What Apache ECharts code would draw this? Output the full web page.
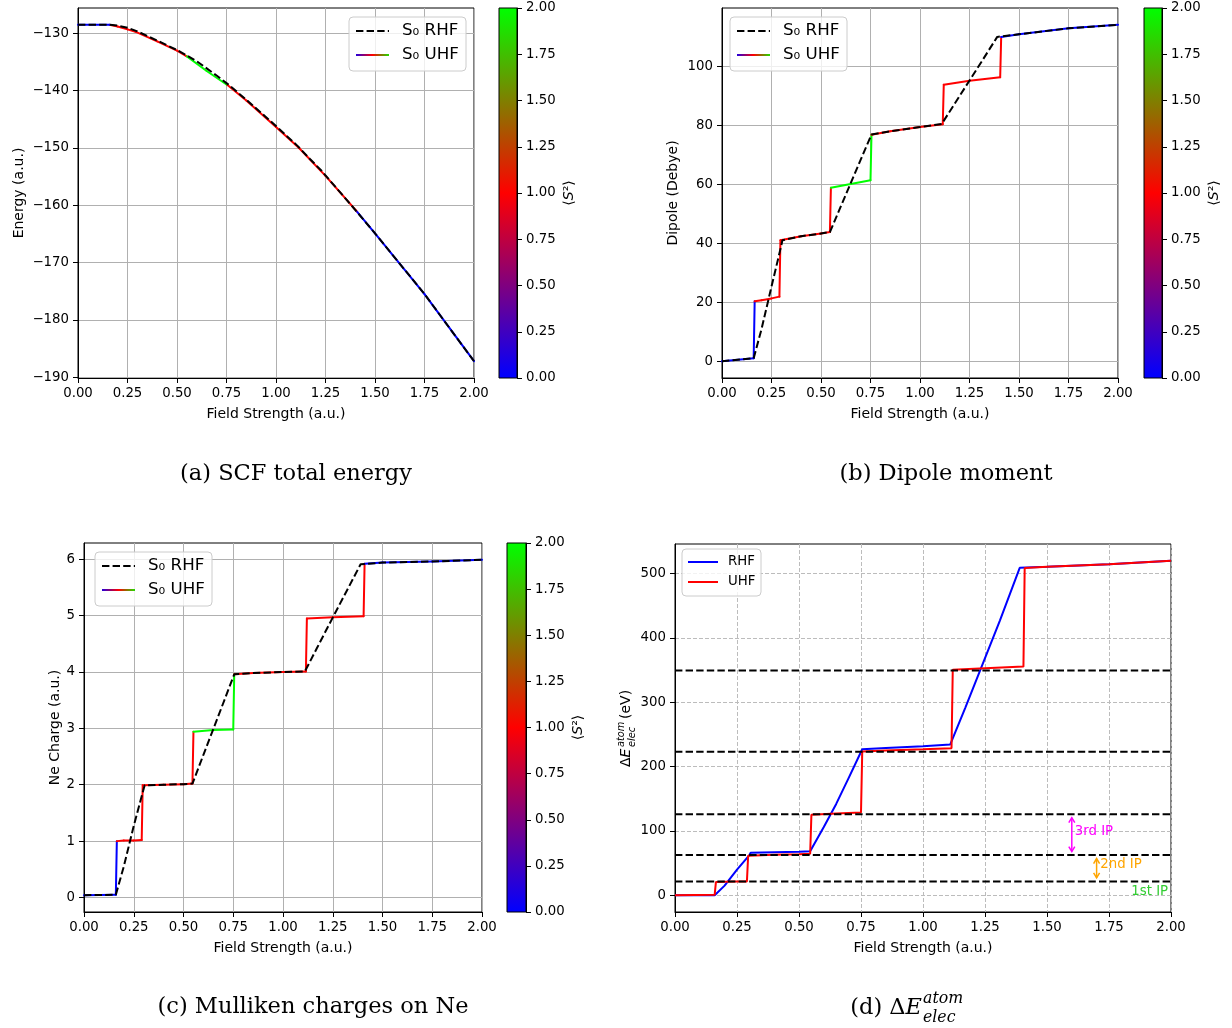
<!DOCTYPE html>
<html>
<head>
<meta charset="utf-8">
<script src="https://cdn.jsdelivr.net/npm/echarts@6/dist/echarts.min.js"></script>
<style>
html, body { margin: 0; padding: 0; background: #fff; }
#chart { width: 1232px; height: 1028px; }
</style>
</head>
<body>
<div id="chart"></div>
<script>
// ---- Field scan data (field strength in a.u.) ----
const UHF_FIELD   = [0.00, 0.16, 0.165, 0.20, 0.25, 0.29, 0.295, 0.40, 0.50, 0.545, 0.55, 0.65, 0.75, 0.755, 0.85, 1.00, 1.115, 1.12, 1.25, 1.405, 1.41, 1.50, 1.75, 2.00];
const UHF_S2      = [0, 0, 1, 1, 1, 1, 1, 1, 1, 1, 2, 2, 2, 1, 1, 1, 1, 1, 1, 1, 0, 0, 0, 0];
const UHF_ENERGY  = [-128.55, -128.55, -128.58, -128.85, -129.35, -129.75, -129.82, -131.45, -133.05, -133.95, -134.05, -136.6, -138.95, -139.05, -141.75, -146.35, -150.0, -150.15, -154.9, -160.95, -161.15, -164.9, -175.5, -187.2];
const UHF_DIPOLE  = [0.0, 1.0, 20.3, 20.7, 21.3, 21.9, 41.0, 42.4, 43.3, 43.8, 58.8, 60.1, 61.4, 76.8, 78.0, 79.4, 80.4, 93.8, 95.1, 96.3, 110.0, 110.9, 112.9, 114.1];
const UHF_CHARGE  = [0.04, 0.05, 1.00, 1.01, 1.01, 1.02, 1.99, 2.00, 2.01, 2.02, 2.94, 2.97, 2.98, 3.96, 3.98, 4.00, 4.01, 4.95, 4.97, 4.99, 5.92, 5.94, 5.96, 5.99];
const UHF_DELTA_E = [0.0, 1.0, 20.5, 20.9, 21.3, 21.6, 61.5, 62.8, 63.8, 64.5, 125.0, 127.0, 128.5, 223.5, 225.0, 226.8, 228.5, 350.5, 353.0, 355.4, 508.6, 510.5, 514.7, 520.0];

const RHF_FIELD   = [0.00, 0.16, 0.165, 0.20, 0.25, 0.30, 0.305, 0.40, 0.50, 0.545, 0.60, 0.65, 0.70, 0.755, 0.85, 1.00, 1.11, 1.17, 1.23, 1.31, 1.39, 1.50, 1.75, 2.00];
const RHF_ENERGY  = [-128.55, -128.55, -128.56, -128.7, -129.05, -129.7, -129.8, -131.3, -132.95, -133.8, -134.9, -136.15, -137.4, -138.85, -141.6, -146.2, -149.7, -151.9, -154.0, -157.2, -160.4, -164.9, -175.5, -187.2];
const RHF_DIPOLE  = [0.0, 1.0, 1.3, 11.0, 25.3, 39.4, 41.0, 42.4, 43.3, 43.8, 52.5, 60.4, 68.3, 76.9, 78.0, 79.4, 80.5, 86.8, 93.1, 101.5, 110.0, 110.9, 112.9, 114.1];
const RHF_CHARGE  = [0.04, 0.05, 0.07, 0.55, 1.27, 1.93, 1.99, 2.00, 2.01, 2.02, 2.53, 2.99, 3.45, 3.96, 3.98, 4.00, 4.01, 4.42, 4.83, 5.37, 5.91, 5.94, 5.96, 5.99];
const RHF_DELTA_E = [0.0, 0.0, 0.5, 15.0, 40.0, 62.5, 66.0, 67.0, 67.7, 68.5, 106.0, 142.0, 182.0, 227.0, 229.0, 231.5, 234.5, 291.0, 349.0, 427.0, 509.0, 510.5, 514.7, 520.0];

// Cumulative ionisation potentials of Ne (eV)
const IP_LEVELS = [21.56, 62.53, 125.98, 223.10, 349.31];
const IP_NOTE_TEXT  = ['1st IP', '2nd IP', '3rd IP'];
const IP_NOTE_COLOR = ['#32cd32', '#ffa500', '#ff00ff'];
const IP_NOTE_FIELD = [1.84, 1.715, 1.612];
const IP_NOTE_BASE  = [0.0, 42.0, 94.3];
const IP_ARROW_FIELD = [null, 1.70, 1.60];

// Tick values
const FIELD_TICKS   = [0, 0.25, 0.5, 0.75, 1, 1.25, 1.5, 1.75, 2];
const ENERGY_TICKS  = [-190, -180, -170, -160, -150, -140, -130];
const DIPOLE_TICKS  = [0, 20, 40, 60, 80, 100];
const CHARGE_TICKS  = [0, 1, 2, 3, 4, 5, 6];
const DELTA_E_TICKS = [0, 100, 200, 300, 400, 500];
const S2_TICKS      = [0, 0.25, 0.5, 0.75, 1, 1.25, 1.5, 1.75, 2];
const S2_RANGE      = [0, 2];
const S2_COLORS     = ['#0000ff', '#ff0000', '#00ff00'];

// ---- helpers ----
const FONT = 'DejaVu Sans';
const TICK_FS = 13.3;
const NAME_FS = 14;

const fixed2 = v => v.toFixed(2);
const signed = v => (v < 0 ? '\u2212' + Math.abs(v) : String(v));

function axis(gridIndex, min, max, ticks, formatter, extra) {
  return Object.assign({
    type: 'value', gridIndex, min, max,
    axisLine: { show: true, onZero: false, lineStyle: { color: '#000', width: 1 } },
    axisTick: { show: true, inside: false, length: 5, customValues: ticks, lineStyle: { color: '#000', width: 1 } },
    axisLabel: { customValues: ticks, formatter, color: '#000', fontSize: TICK_FS, fontFamily: FONT, margin: 9, hideOverlap: false },
    splitLine: { show: true, lineStyle: { color: '#b0b0b0', width: 1 } },
    nameLocation: 'middle',
    nameTextStyle: { color: '#000', fontSize: NAME_FS, fontFamily: FONT }
  }, extra || {});
}

function pairs(xs, ys) { return xs.map((x, i) => [x, ys[i]]); }

function uhfSegments(ys) {
  const out = [];
  for (let i = 0; i < UHF_FIELD.length - 1; i++) {
    out.push([UHF_FIELD[i], ys[i], UHF_FIELD[i + 1], ys[i + 1], UHF_S2[i]]);
  }
  return out;
}

function renderSegment(params, api) {
  const a = api.coord([api.value(0), api.value(1)]);
  const b = api.coord([api.value(2), api.value(3)]);
  return {
    type: 'line',
    shape: { x1: a[0], y1: a[1], x2: b[0], y2: b[1] },
    style: { stroke: api.visual('color'), lineWidth: 2, lineCap: 'round' }
  };
}

function uhfSeries(k, ys) {
  return {
    type: 'custom', name: 'S0 UHF', xAxisIndex: k, yAxisIndex: k,
    dimensions: ['x0', 'y0', 'x1', 'y1', 's2'],
    encode: { x: [0, 2], y: [1, 3] },
    data: uhfSegments(ys), renderItem: renderSegment, z: 2, silent: true
  };
}

function rhfSeries(k, ys) {
  return {
    type: 'line', name: 'S0 RHF', xAxisIndex: k, yAxisIndex: k,
    data: pairs(RHF_FIELD, ys), showSymbol: false, symbol: 'none', z: 3, silent: true,
    lineStyle: { color: '#000', width: 2, type: [7.4, 3.2] }
  };
}

function colorbarSeries(k) {
  return {
    type: 'custom', xAxisIndex: k, yAxisIndex: k, silent: true, z: 1,
    data: [[0, S2_RANGE[0], 1, S2_RANGE[1]]],
    renderItem(params, api) {
      const p0 = api.coord([api.value(0), api.value(1)]);
      const p1 = api.coord([api.value(2), api.value(3)]);
      const n = S2_COLORS.length;
      return {
        type: 'rect',
        shape: { x: p0[0], y: p1[1], width: p1[0] - p0[0], height: p0[1] - p1[1] },
        style: {
          fill: new echarts.graphic.LinearGradient(0, 1, 0, 0,
            S2_COLORS.map((c, i) => ({ offset: i / (n - 1), color: c })))
        }
      };
    }
  };
}

const gridBox = (left, top, width, height, z) => ({
  left, top, width, height, show: true, borderColor: '#000', borderWidth: 1,
  backgroundColor: 'transparent', containLabel: false, outerBoundsMode: 'none', z: z || 0
});

const grids = [
  gridBox(78, 8, 396, 370),
  gridBox(722, 8, 396, 370),
  gridBox(84, 543, 398, 369),
  gridBox(675, 544, 496, 368),
  gridBox(499, 8, 18, 370, 5),
  gridBox(1144, 8, 18, 370, 5),
  gridBox(507, 543, 19, 369, 5)
];

const fieldName = { name: 'Field Strength (a.u.)', nameGap: 29 };
const dashedSplit = { show: true, lineStyle: { color: '#bcbcbc', width: 1, type: [4, 2] } };

const xAxes = [
  axis(0, 0, 2, FIELD_TICKS, fixed2, fieldName),
  axis(1, 0, 2, FIELD_TICKS, fixed2, fieldName),
  axis(2, 0, 2, FIELD_TICKS, fixed2, fieldName),
  axis(3, 0, 2, FIELD_TICKS, fixed2, Object.assign({ splitLine: dashedSplit }, fieldName)),
  { type: 'value', gridIndex: 4, min: 0, max: 1, show: false },
  { type: 'value', gridIndex: 5, min: 0, max: 1, show: false },
  { type: 'value', gridIndex: 6, min: 0, max: 1, show: false }
];

const s2Name = {
  name: '{b|\u27e8}{i|S}{b|\u00b2\u27e9}', nameGap: 45, nameRotate: 90,
  position: 'right', z: 6,
  splitLine: { show: false },
  nameTextStyle: {
    color: '#000', fontSize: NAME_FS, fontFamily: FONT,
    rich: {
      b: { fontSize: NAME_FS, fontFamily: FONT, color: '#000' },
      i: { fontSize: NAME_FS, fontFamily: FONT, color: '#000', fontStyle: 'italic' }
    }
  }
};

const yAxes = [
  axis(0, -190.13, -125.62, ENERGY_TICKS, signed, { name: 'Energy (a.u.)', nameGap: 52 }),
  axis(1, -5.7, 119.8, DIPOLE_TICKS, signed, { name: 'Dipole (Debye)', nameGap: 42 }),
  axis(2, -0.257, 6.2875, CHARGE_TICKS, signed, { name: 'Ne Charge (a.u.)', nameGap: 22 }),
  axis(3, -26, 546, DELTA_E_TICKS, signed, { splitLine: dashedSplit }),
  axis(4, S2_RANGE[0], S2_RANGE[1], S2_TICKS, fixed2, s2Name),
  axis(5, S2_RANGE[0], S2_RANGE[1], S2_TICKS, fixed2, s2Name),
  axis(6, S2_RANGE[0], S2_RANGE[1], S2_TICKS, fixed2, s2Name)
];

const series = [
  uhfSeries(0, UHF_ENERGY),   // 0
  rhfSeries(0, RHF_ENERGY),   // 1
  uhfSeries(1, UHF_DIPOLE),   // 2
  rhfSeries(1, RHF_DIPOLE),   // 3
  uhfSeries(2, UHF_CHARGE),   // 4
  rhfSeries(2, RHF_CHARGE),   // 5
  {
    type: 'line', name: 'RHF', xAxisIndex: 3, yAxisIndex: 3, z: 2, silent: true,
    data: pairs(RHF_FIELD, RHF_DELTA_E), showSymbol: false, symbol: 'none',
    lineStyle: { color: '#0000ff', width: 2 }
  },
  {
    type: 'line', name: 'UHF', xAxisIndex: 3, yAxisIndex: 3, z: 3, silent: true,
    data: pairs(UHF_FIELD, UHF_DELTA_E), showSymbol: false, symbol: 'none',
    lineStyle: { color: '#ff0000', width: 2 }
  },
  colorbarSeries(4),
  colorbarSeries(5),
  colorbarSeries(6)
];

// Ionisation-potential reference levels
IP_LEVELS.forEach(level => {
  series.push({
    type: 'line', xAxisIndex: 3, yAxisIndex: 3, z: 4, silent: true,
    data: [[0, level], [2, level]], showSymbol: false, symbol: 'none',
    lineStyle: { color: '#000', width: 2, type: [7.4, 3.2] }
  });
});

// Double-headed arrows spanning successive ionisation levels
const arrowData = [];
IP_ARROW_FIELD.forEach((f, i) => {
  if (f !== null) arrowData.push([f, IP_LEVELS[i - 1], IP_LEVELS[i], i]);
});
series.push({
  type: 'custom', xAxisIndex: 3, yAxisIndex: 3, z: 5, silent: true,
  data: arrowData,
  renderItem(params, api) {
    const lo = api.coord([api.value(0), api.value(1)]);
    const hi = api.coord([api.value(0), api.value(2)]);
    const color = IP_NOTE_COLOR[api.value(3)];
    const x = lo[0], y0 = lo[1] - 3.5, y1 = hi[1] + 3.5, L = 5, W = 3;
    const st = { stroke: color, lineWidth: 1.5, fill: 'none' };
    return {
      type: 'group',
      children: [
        { type: 'line', shape: { x1: x, y1: y0, x2: x, y2: y1 }, style: st },
        { type: 'polyline', shape: { points: [[x - W, y0 - L], [x, y0], [x + W, y0 - L]] }, style: st },
        { type: 'polyline', shape: { points: [[x - W, y1 + L], [x, y1], [x + W, y1 + L]] }, style: st }
      ]
    };
  }
});
series.push({
  type: 'custom', xAxisIndex: 3, yAxisIndex: 3, z: 5, silent: true,
  data: IP_NOTE_TEXT.map((t, i) => [IP_NOTE_FIELD[i], IP_NOTE_BASE[i], i]),
  renderItem(params, api) {
    const p = api.coord([api.value(0), api.value(1)]);
    const i = api.value(2);
    return {
      type: 'text', x: p[0], y: p[1] + 3,
      style: {
        text: IP_NOTE_TEXT[i], fill: IP_NOTE_COLOR[i], fontSize: TICK_FS, fontFamily: FONT,
        align: 'left', verticalAlign: 'bottom'
      }
    };
  }
});

// ---- legends, captions and the ΔE axis title ----
const uhfGradient = () => new echarts.graphic.LinearGradient(0, 0, 1, 0,
  S2_COLORS.map((c, i) => ({ offset: i / (S2_COLORS.length - 1), color: c })));

function legendGroup(x, y, w, h, lineX1, lineX2, textX, rows, fs) {
  const els = [{
    type: 'rect', shape: { x, y, width: w, height: h, r: 4 },
    style: { fill: 'rgba(255,255,255,0.8)', stroke: '#cccccc', lineWidth: 1 }, z: 100
  }];
  rows.forEach(r => {
    els.push({ type: 'line', shape: { x1: lineX1, y1: r.y, x2: lineX2, y2: r.y }, style: r.style, z: 101 });
    els.push({
      type: 'text', x: textX, y: r.y, z: 101,
      style: { text: r.text, fill: '#000', fontSize: fs, fontFamily: FONT, align: 'left', verticalAlign: 'middle' }
    });
  });
  return els;
}

const rhfStyle = { stroke: '#000', lineWidth: 2, lineDash: [7.4, 3.2] };
const uhfStyle = () => ({ stroke: uhfGradient(), lineWidth: 2 });

function spinLegend(x, y) {
  return legendGroup(x, y, 117, 54, x + 7, x + 40, x + 53, [
    { y: y + 14, text: 'S\u2080 RHF', style: rhfStyle },
    { y: y + 38, text: 'S\u2080 UHF', style: uhfStyle() }
  ], 16.7);
}

const caption = (x, y, text) => ({
  type: 'text', x, y,
  style: { text, fill: '#000', fontSize: 22.5, fontFamily: 'DejaVu Serif', align: 'center', verticalAlign: 'middle' }
});

const graphic = [].concat(
  spinLegend(349, 17),
  spinLegend(730, 17),
  spinLegend(95, 552),
  legendGroup(682, 549, 79, 47, 688, 718, 728, [
    { y: 562, text: 'RHF', style: { stroke: '#0000ff', lineWidth: 2 } },
    { y: 582, text: 'UHF', style: { stroke: '#ff0000', lineWidth: 2 } }
  ], 13.3),
  [
    caption(296, 474, '(a) SCF total energy'),
    caption(946, 474, '(b) Dipole moment'),
    caption(313, 1007, '(c) Mulliken charges on Ne'),
    {
      type: 'text', x: 922, y: 1008,
      style: {
        text: '(d) \u0394{e|E}', fill: '#000', fontSize: 22.5, fontFamily: 'DejaVu Serif',
        align: 'right', verticalAlign: 'middle',
        rich: { e: { fontSize: 22.5, fontFamily: 'DejaVu Serif', fontStyle: 'italic', fill: '#000' } }
      }
    },
    {
      type: 'text', x: 923, y: 999,
      style: { text: 'atom', fill: '#000', fontSize: 15.75, fontFamily: 'DejaVu Serif', fontStyle: 'italic', align: 'left', verticalAlign: 'middle' }
    },
    {
      type: 'text', x: 923, y: 1018,
      style: { text: 'elec', fill: '#000', fontSize: 15.75, fontFamily: 'DejaVu Serif', fontStyle: 'italic', align: 'left', verticalAlign: 'middle' }
    },
    {
      type: 'group', x: 631, y: 767, rotation: Math.PI / 2,
      children: [
        {
          type: 'text', x: 0, y: -5,
          style: {
            text: '\u0394{e|E}', fill: '#000', fontSize: NAME_FS, fontFamily: FONT, align: 'left', verticalAlign: 'middle',
            rich: { e: { fontSize: NAME_FS, fontFamily: FONT, fontStyle: 'italic', fill: '#000' } }
          }
        },
        { type: 'text', x: 20, y: -10, style: { text: 'atom', fill: '#000', fontSize: 9.8, fontFamily: FONT, fontStyle: 'italic', align: 'left', verticalAlign: 'middle' } },
        { type: 'text', x: 20, y: 1, style: { text: 'elec', fill: '#000', fontSize: 9.8, fontFamily: FONT, fontStyle: 'italic', align: 'left', verticalAlign: 'middle' } },
        { type: 'text', x: 48, y: -5, style: { text: '(eV)', fill: '#000', fontSize: NAME_FS, fontFamily: FONT, align: 'left', verticalAlign: 'middle' } }
      ]
    }
  ]
);

const chart = echarts.init(document.getElementById('chart'), null, { renderer: 'canvas' });
chart.setOption({
  animation: false,
  backgroundColor: '#fff',
  grid: grids,
  xAxis: xAxes,
  yAxis: yAxes,
  visualMap: [{
    type: 'continuous', show: false, seriesIndex: [0, 2, 4], dimension: 4,
    min: S2_RANGE[0], max: S2_RANGE[1], inRange: { color: S2_COLORS }
  }],
  series,
  graphic: { elements: graphic }
});
</script>
</body>
</html>
